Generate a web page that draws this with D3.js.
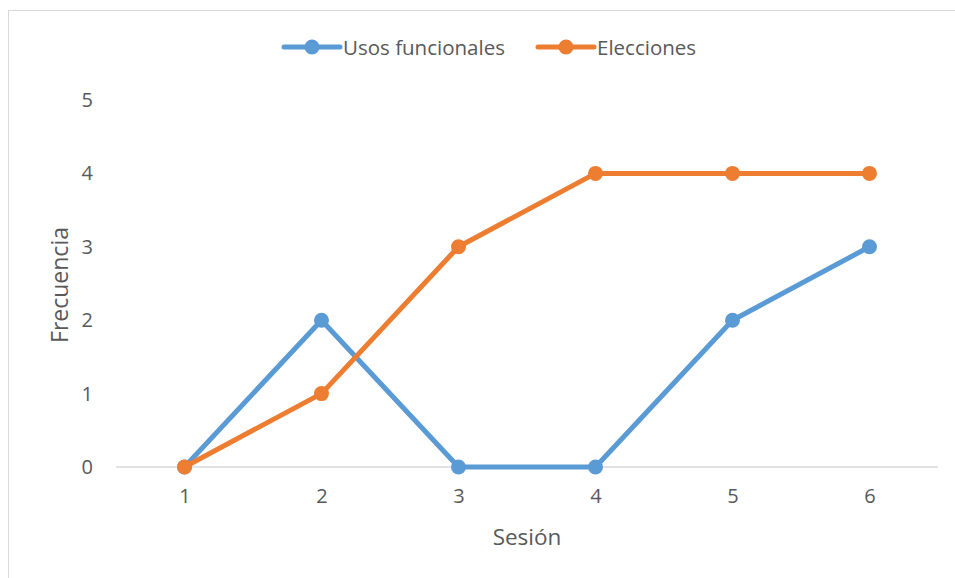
<!DOCTYPE html>
<html>
<head>
<meta charset="utf-8">
<script src="https://cdn.jsdelivr.net/npm/d3@7"></script>
<style>
  html, body { margin: 0; padding: 0; background: #fff; }
  svg { display: block; }
  text { font-family: "Open Sans", "Noto Sans", sans-serif; fill: #595959; }
</style>
</head>
<body>
<svg id="chart" width="955" height="578"></svg>
<script>
// Sessions on the x axis
const sessions = ["1", "2", "3", "4", "5", "6"];
// Frequency per session for each series
const usosFuncionales = [0, 2, 0, 0, 2, 3];
const elecciones = [0, 1, 3, 4, 4, 4];
const yTicks = [0, 1, 2, 3, 4, 5];

const series = [
  { name: "Usos funcionales", values: usosFuncionales, color: "#5b9bd5" },
  { name: "Elecciones", values: elecciones, color: "#ed7d31" }
];

const svg = d3.select("#chart");
const W = 955, H = 578;

// Chart frame
svg.append("rect")
  .attr("x", 8.5).attr("y", 10.5)
  .attr("width", W + 10).attr("height", H + 10)
  .attr("fill", "#fff")
  .attr("stroke", "#d9d9d9").attr("stroke-width", 1);

const plot = { left: 116, right: 938, top: 100, bottom: 467 };

const x = d3.scalePoint()
  .domain(sessions)
  .range([plot.left, plot.right])
  .padding(0.5);

const y = d3.scaleLinear()
  .domain([0, 5])
  .range([plot.bottom, plot.top]);

// Baseline
svg.append("line")
  .attr("x1", plot.left).attr("x2", plot.right)
  .attr("y1", y(0)).attr("y2", y(0))
  .attr("stroke", "#d9d9d9").attr("stroke-width", 1.5);

// Y axis tick labels
const yAxis = d3.axisLeft(y).tickValues(yTicks).tickFormat(d3.format("d")).tickSize(0).tickPadding(0);
const gy = svg.append("g").attr("transform", `translate(93,0)`).call(yAxis);
gy.select(".domain").remove();
gy.selectAll("text")
  .attr("font-size", 20)
  .attr("font-family", "'Open Sans', sans-serif")
  .attr("fill", "#595959");

// X axis tick labels
const xAxis = d3.axisBottom(x).tickSize(0).tickPadding(0);
const gx = svg.append("g").attr("transform", `translate(0,${y(0) + 22})`).call(xAxis);
gx.select(".domain").remove();
gx.selectAll("text")
  .attr("font-size", 20)
  .attr("font-family", "'Open Sans', sans-serif")
  .attr("fill", "#595959");

// Axis titles
svg.append("text")
  .attr("x", 527).attr("y", 545)
  .attr("text-anchor", "middle")
  .attr("font-size", 22.5)
  .text("Sesión");

svg.append("text")
  .attr("transform", "translate(68,285) rotate(-90)")
  .attr("text-anchor", "middle")
  .attr("font-size", 23)
  .text("Frecuencia");

// Lines and markers
const line = d3.line()
  .x((d, i) => x(sessions[i]))
  .y(d => y(d));

series.forEach(s => {
  const g = svg.append("g");
  g.append("path")
    .datum(s.values)
    .attr("d", line)
    .attr("fill", "none")
    .attr("stroke", s.color)
    .attr("stroke-width", 5)
    .attr("stroke-linejoin", "round")
    .attr("stroke-linecap", "round");
  g.selectAll("circle")
    .data(s.values)
    .join("circle")
    .attr("cx", (d, i) => x(sessions[i]))
    .attr("cy", d => y(d))
    .attr("r", 7.5)
    .attr("fill", s.color);
});

// Legend
const legendItems = [
  { s: series[0], x0: 284 },
  { s: series[1], x0: 538 }
];
legendItems.forEach(({ s, x0 }) => {
  const g = svg.append("g").attr("transform", `translate(${x0},47)`);
  g.append("line")
    .attr("x1", 0).attr("x2", 56)
    .attr("stroke", s.color).attr("stroke-width", 5)
    .attr("stroke-linecap", "round");
  g.append("circle").attr("cx", 28).attr("r", 7.5).attr("fill", s.color);
  g.append("text")
    .attr("x", 59).attr("y", 7.5)
    .attr("font-size", 20.5)
    .text(s.name);
});
</script>
</body>
</html>
